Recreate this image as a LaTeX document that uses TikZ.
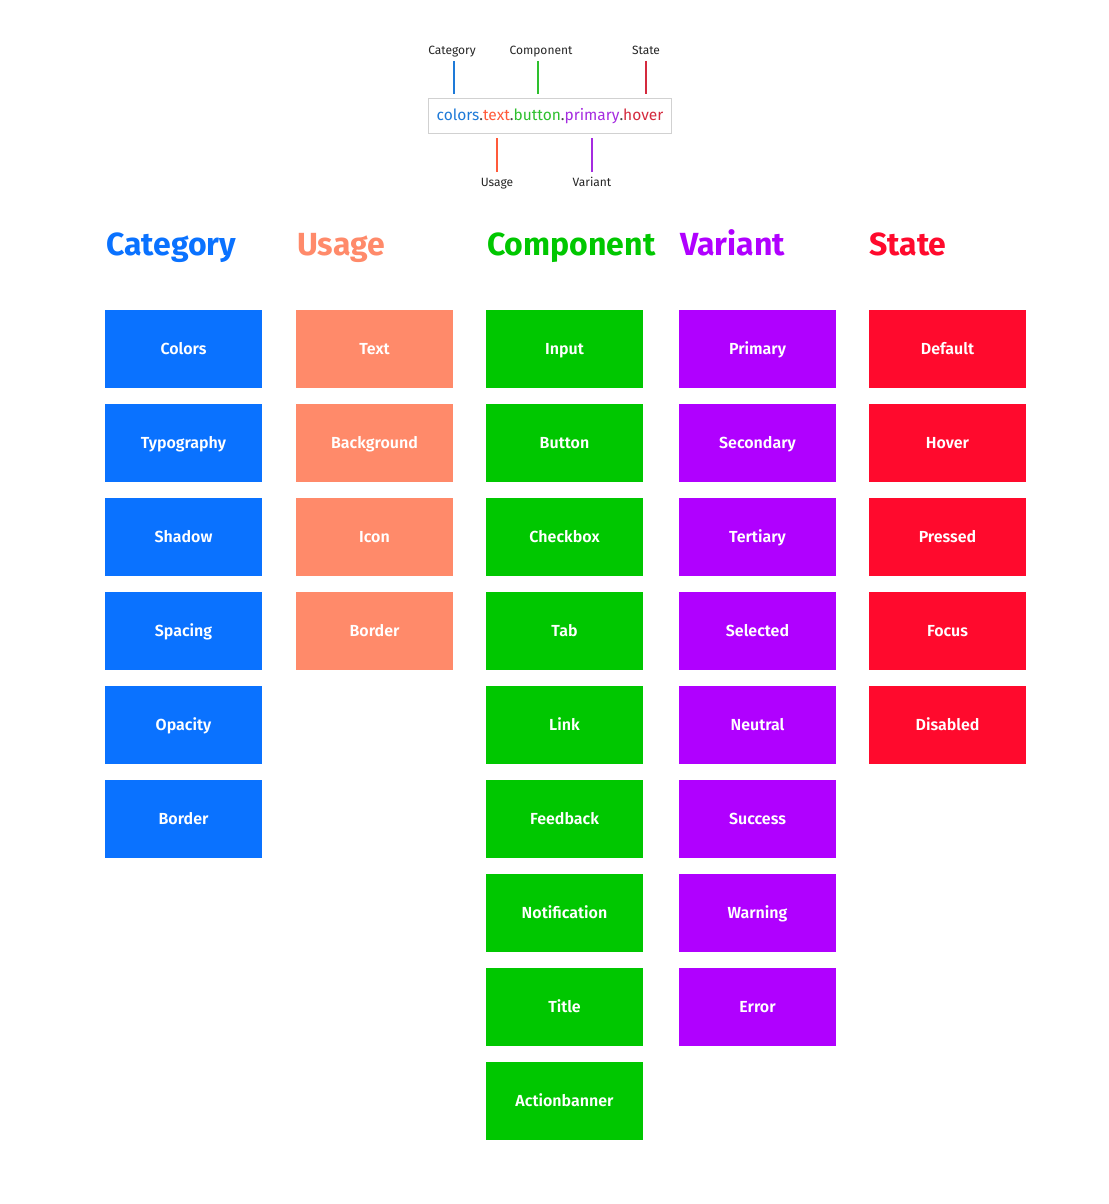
\documentclass[tikz,border=0pt]{standalone}
\usepackage{fontspec}
\setmainfont{Fira Sans}
\newfontfamily\tilefont{Fira Sans SemiBold}
\usetikzlibrary{positioning}
\definecolor{catc}{HTML}{0A72FF}
\definecolor{usec}{HTML}{FF8A6A}
\definecolor{compc}{HTML}{00C700}
\definecolor{varc}{HTML}{B000FF}
\definecolor{statc}{HTML}{FF0A2D}
\definecolor{catln}{HTML}{1E7AD8}
\definecolor{useln}{HTML}{FF5A3A}
\definecolor{compln}{HTML}{2EC02E}
\definecolor{varln}{HTML}{A52BE0}
\definecolor{statln}{HTML}{D42A3E}
\definecolor{dotc}{HTML}{444444}
\newcommand\seg[2]{\textcolor{#1}{#2}}
\tikzset{head/.style={anchor=base west,inner sep=0pt,font=\fontsize{32}{36}\selectfont\bfseries},
  tile/.style={minimum width=157pt,minimum height=78pt,inner sep=0pt,text height=11pt,text depth=1pt,
    text=white,font=\fontsize{16}{18}\selectfont\tilefont},
  tag/.style={anchor=base,inner sep=0pt,font=\fontsize{12}{14}\selectfont,text=black!85},
  tick/.style={line width=2pt},
  token/.style={draw=black!18,line width=1pt,minimum width=243pt,minimum height=35pt,inner sep=0pt,
    text height=11pt,text depth=3pt,font=\fontsize{15.5}{18}\selectfont}}
\begin{document}
\begin{tikzpicture}[x=1pt,y=-1pt]
\useasboundingbox[fill=white] (0,0) rectangle (1108,1204);
% legend of one token
\node[token] (name) at (550,116.5) {\seg{catln}{colors}\seg{dotc}{.}\seg{useln}{text}\seg{dotc}{.}\seg{compln}{button}\seg{dotc}{.}\seg{varln}{primary}\seg{dotc}{.}\seg{statln}{hover}};
\node[tag] (catlbl) at (452,55) {Category};
\node[tag] (complbl) at (541,55) {Component};
\node[tag] (statlbl) at (646,55) {State};
\node[tag] (uselbl) at (497,186) {Usage};
\node[tag] (varlbl) at (592,186) {Variant};
\coordinate (catpin) at (454,61);\coordinate (comppin) at (537.5,61);\coordinate (statpin) at (646,61);
\coordinate (usepin) at (496.5,172);\coordinate (varpin) at (592,172);
\draw[tick,catln,shorten >=4.5pt] (catpin) -- (catpin |- name.north);
\draw[tick,compln,shorten >=4.5pt] (comppin) -- (comppin |- name.north);
\draw[tick,statln,shorten >=4.5pt] (statpin) -- (statpin |- name.north);
\draw[tick,useln,shorten >=4pt] (usepin) -- (usepin |- name.south);
\draw[tick,varln,shorten >=4pt] (varpin) -- (varpin |- name.south);
% columns
\node[head,text=catc] (cathead) at (106,255) {Category};
\node[head,text=usec] (usehead) at (297,255) {Usage};
\node[head,text=compc] (comphead) at (487,255) {Component};
\node[head,text=varc] (varhead) at (680,255) {Variant};
\node[head,text=statc] (stathead) at (869,255) {State};
\foreach \t [count=\i] in {Colors,Typography,Shadow,Spacing,Opacity,Border}
  \node[tile,fill=catc] (cat\i) at (183.5,349+94*\i-94) {\t};
\foreach \t [count=\i] in {Text,Background,Icon,Border}
  \node[tile,fill=usec] (use\i) at (374.5,349+94*\i-94) {\t};
\foreach \t [count=\i] in {Input,Button,Checkbox,Tab,Link,Feedback,Notification,Title,Actionbanner}
  \node[tile,fill=compc] (comp\i) at (564.5,349+94*\i-94) {\t};
\foreach \t [count=\i] in {Primary,Secondary,Tertiary,Selected,Neutral,Success,Warning,Error}
  \node[tile,fill=varc] (var\i) at (757.5,349+94*\i-94) {\t};
\foreach \t [count=\i] in {Default,Hover,Pressed,Focus,Disabled}
  \node[tile,fill=statc] (stat\i) at (947.5,349+94*\i-94) {\t};
\end{tikzpicture}
\end{document}
